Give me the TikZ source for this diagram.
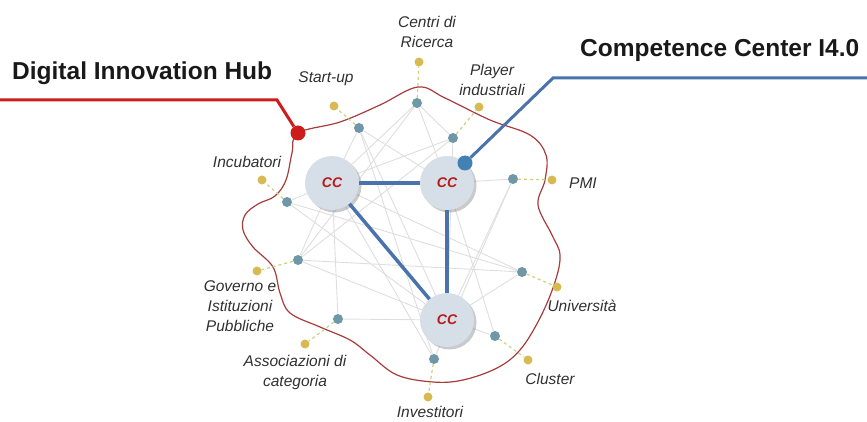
\documentclass[tikz,border=0pt]{standalone}
\usepackage{fontspec}
\setsansfont{Liberation Sans}
\usetikzlibrary{positioning,shadows,backgrounds}

\definecolor{hubred}{RGB}{204,28,28}
\definecolor{blobred}{RGB}{168,60,60}
\definecolor{ccblue}{RGB}{74,114,172}
\definecolor{ccfill}{RGB}{214,222,231}
\definecolor{actor}{RGB}{110,152,168}
\definecolor{seed}{RGB}{216,186,82}
\definecolor{spoke}{RGB}{204,208,128}
\definecolor{mesh}{RGB}{222,222,222}
\definecolor{tagtext}{RGB}{48,48,48}

\begin{document}
\begin{tikzpicture}[x=1pt, y=-1pt, font=\sffamily,
    cc/.style={circle, fill=ccfill, minimum size=54pt, inner sep=0pt,
        text=hubred!90!black, font=\sffamily\bfseries\itshape\fontsize{14}{14}\selectfont,
        drop shadow={shadow xshift=2.5pt, shadow yshift=-2.5pt, opacity=0.35, fill=black!60}},
    actor/.style={circle, fill=actor, minimum size=10pt, inner sep=0pt},
    seed/.style={circle, fill=seed, minimum size=9pt, inner sep=0pt},
    tag/.style={align=center, text=tagtext, inner sep=0pt,
        font=\sffamily\itshape\fontsize{15.5}{20}\selectfont},
    title/.style={inner sep=0pt, text=black!90,
        font=\sffamily\bfseries\fontsize{24.5}{28}\selectfont},
    meshline/.style={draw=mesh, line width=0.9pt},
    spokeline/.style={draw=spoke, dashed, line width=1.2pt},
    ccline/.style={draw=ccblue, line width=3.5pt},
    calloutline/.style={line width=3pt}]
\useasboundingbox (0,0) rectangle (867,422);

% competence centers
\node[cc] (cc1) at (332,183) {CC};
\node[cc] (cc2) at (447,183) {CC};
\node[cc] (cc3) at (447,320) {CC};

% actors of the ecosystem
\node[actor] (ric) at (417,103) {};
\node[actor] (sta) at (359,128) {};
\node[actor] (pla) at (453,138) {};
\node[actor] (inc) at (287,202) {};
\node[actor] (pmi) at (513,179) {};
\node[actor] (gov) at (298,260) {};
\node[actor] (uni) at (522,272) {};
\node[actor] (ass) at (338,319) {};
\node[actor] (inv) at (434,359) {};
\node[actor] (clu) at (495,336) {};

\node[seed] (ricy) at (419,62) {};
\node[seed] (stay) at (334,106) {};
\node[seed] (play) at (479,107) {};
\node[seed] (incy) at (262,180) {};
\node[seed] (pmiy) at (552,180) {};
\node[seed] (govy) at (257,271) {};
\node[seed] (uniy) at (557,287) {};
\node[seed] (assy) at (305,344) {};
\node[seed] (invy) at (428,397) {};
\node[seed] (cluy) at (528,360) {};

\node[tag] (rictag) at (427,32) {Centri di\\Ricerca};
\node[tag] (statag) at (326,79) {Start-up};
\node[tag] (platag) at (492,80) {Player\\industriali};
\node[tag] (inctag) at (247,162) {Incubatori};
\node[tag] (pmitag) at (583,183) {PMI};
\node[tag] (govtag) at (240,306) {Governo e\\Istituzioni\\Pubbliche};
\node[tag] (unitag) at (582,306) {Università};
\node[tag] (asstag) at (295,372) {Associazioni di\\categoria};
\node[tag] (invtag) at (430,412) {Investitori};
\node[tag] (clutag) at (550,379) {Cluster};

% thin links between everybody
\begin{scope}[on background layer]
\foreach \a/\b in {ric/cc1, ric/cc2, ric/gov, ric/pla, sta/cc1, sta/cc2, sta/cc3,
    sta/inv, pla/cc1, pla/gov, pla/cc3, inc/cc1, inc/uni, inc/cc3, pmi/cc2,
    pmi/cc3, pmi/inv, gov/cc1, gov/cc3, gov/uni, uni/cc1, uni/cc3, ass/cc1,
    ass/cc3, inv/cc1, clu/cc3, clu/cc2}
    \draw[meshline] (\a) -- (\b);

% hub boundary
\draw[blobred, line width=1.2pt] plot[smooth cycle, tension=0.6] coordinates {
    (298,133) (340,122) (380,105) (418,87) (445,98) (490,120) (530,135)
    (546,155) (545,180) (538,205) (552,235) (560,255) (555,282) (540,318)
    (520,350) (497,368) (463,380) (433,382) (397,375) (370,355) (350,340)
    (320,327) (290,313) (280,293) (273,267) (253,247) (243,230) (245,215)
    (258,204) (275,196) (286,180) (292,153)};
\end{scope}

\foreach \a in {ric, sta, pla, inc, pmi, gov, uni, ass, inv, clu}
    \draw[spokeline] (\a) -- (\a y);

\draw[ccline] (cc1) -- (cc2);
\draw[ccline] (cc1) -- (cc3);
\draw[ccline] (cc2) -- (cc3);

% callouts
\node[circle, fill=hubred, minimum size=15pt, inner sep=0pt] (dihdot) at (298,133) {};
\coordinate (dihend) at (0,100);
\coordinate (dihbend) at (277,100);
\draw[calloutline, hubred] (dihend) -- (dihbend) -- (dihdot);
\node[title, anchor=west] (dih) at (12,73) {Digital Innovation Hub};

\node[circle, fill=ccblue!90!cyan, minimum size=15pt, inner sep=0pt] (c4dot) at (465,163) {};
\coordinate (c4end) at (867,78);
\coordinate (c4bend) at (553,78);
\draw[calloutline, ccblue] (c4end) -- (c4bend) -- (c4dot);
\node[title, anchor=west] (c4) at (580,50) {Competence Center I4.0};
\end{tikzpicture}
\end{document}
